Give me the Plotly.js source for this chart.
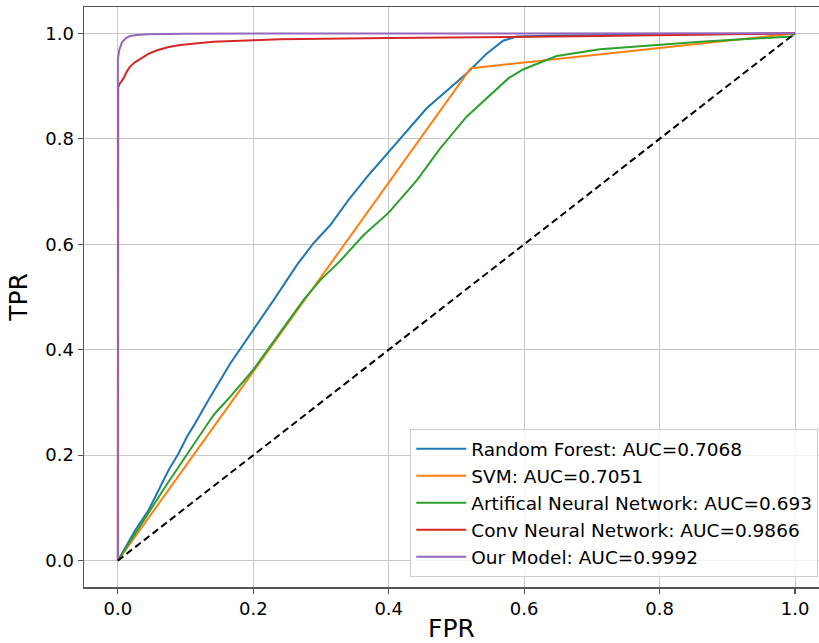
<!DOCTYPE html>
<html>
<head>
<meta charset="utf-8">
<script src="https://cdn.plot.ly/plotly-3.0.1.min.js"></script>
<style>html,body{margin:0;padding:0;background:#fff;}#chart{width:819px;height:643px;}</style>
</head>
<body>
<div id="chart"></div>
<script>
// Series names
const names = [
  "Random Forest: AUC=0.7068",
  "SVM: AUC=0.7051",
  "Artifical Neural Network: AUC=0.693",
  "Conv Neural Network: AUC=0.9866",
  "Our Model: AUC=0.9992"
];

// Random Forest
const rf_fpr = [0, 0.0258, 0.0455, 0.06, 0.075, 0.090, 0.102, 0.114, 0.134, 0.166, 0.2, 0.23, 0.2645, 0.289, 0.3137, 0.3407, 0.368, 0.40, 0.456, 0.515, 0.545, 0.569, 0.589, 0.65, 0.8, 1.0];
const rf_tpr = [0, 0.058, 0.096, 0.134, 0.172, 0.204, 0.235, 0.260, 0.305, 0.374, 0.437, 0.494, 0.561, 0.602, 0.6365, 0.684, 0.728, 0.776, 0.858, 0.924, 0.962, 0.986, 0.994, 0.996, 0.998, 1.0];

// SVM
const svm_fpr = [0, 0.521, 1.0];
const svm_tpr = [0, 0.934, 1.0];

// Artificial Neural Network
const ann_fpr = [0, 0.0258, 0.0455, 0.070, 0.095, 0.119, 0.138, 0.144, 0.166, 0.2, 0.225, 0.25, 0.274, 0.299, 0.328, 0.363, 0.40, 0.442, 0.476, 0.515, 0.545, 0.577, 0.599, 0.648, 0.712, 0.86, 0.995, 1.0];
const ann_tpr = [0, 0.052, 0.090, 0.140, 0.188, 0.235, 0.270, 0.280, 0.311, 0.362, 0.406, 0.450, 0.494, 0.532, 0.568, 0.6175, 0.660, 0.722, 0.782, 0.842, 0.877, 0.915, 0.932, 0.957, 0.970, 0.984, 0.994, 1.0];

// Conv Neural Network
const cnn_fpr = [0, 0, 0.0005, 0.003, 0.0086, 0.013, 0.018, 0.025, 0.033, 0.045, 0.058, 0.075, 0.092, 0.115, 0.141, 0.2, 0.24, 0.4, 0.6, 0.712, 1.0];
const cnn_tpr = [0, 0.85, 0.898, 0.905, 0.915, 0.927, 0.937, 0.945, 0.951, 0.961, 0.968, 0.974, 0.978, 0.981, 0.984, 0.987, 0.989, 0.991, 0.993, 0.995, 1.0];

// Our Model
const our_fpr = [0, 0, 0.002, 0.006, 0.012, 0.018, 0.028, 0.043, 0.1, 1.0];
const our_tpr = [0, 0.95, 0.968, 0.983, 0.991, 0.995, 0.997, 0.9985, 0.9995, 1.0];

// Chance diagonal
const diag_x = [0, 1];
const diag_y = [0, 1];

// Tick values
const tickVals = [0, 0.2, 0.4, 0.6, 0.8, 1.0];
const tickText = ["0.0", "0.2", "0.4", "0.6", "0.8", "1.0"];

const colors = ["#1f77b4", "#ff7f0e", "#2ca02c", "#d62728", "#9467bd"];
const xs = [rf_fpr, svm_fpr, ann_fpr, cnn_fpr, our_fpr];
const ys = [rf_tpr, svm_tpr, ann_tpr, cnn_tpr, our_tpr];

const traces = xs.map((x, i) => ({
  x: x, y: ys[i], type: "scatter", mode: "lines", name: names[i],
  line: {color: colors[i], width: 2},
  hoverinfo: "skip"
}));
traces.push({
  x: diag_x, y: diag_y, type: "scatter", mode: "lines", showlegend: false,
  line: {color: "#000000", width: 2, dash: "7px,4px"}, hoverinfo: "skip"
});

const font = "DejaVu Sans, sans-serif";
const layout = {
  width: 819, height: 643,
  margin: {l: 84, r: 0, t: 7, b: 56, pad: 0},
  paper_bgcolor: "#ffffff", plot_bgcolor: "#ffffff",
  font: {family: font, color: "#000000", size: 18},
  showlegend: true,
  xaxis: {
    range: [-0.05, 1.0354], tickvals: tickVals, ticktext: tickText,
    showgrid: true, gridcolor: "#c8c8c8", gridwidth: 1, zeroline: false,
    showline: true, linecolor: "#555555", linewidth: 1.5, mirror: true,
    ticks: "outside", ticklen: 5, tickcolor: "#555555", tickwidth: 1.2,
    tickfont: {family: font, size: 18, color: "#000000"},
    title: {text: "FPR", font: {family: font, size: 25, color: "#000000"}, standoff: 8}
  },
  yaxis: {
    range: [-0.05, 1.05], tickvals: tickVals, ticktext: tickText,
    showgrid: true, gridcolor: "#c8c8c8", gridwidth: 1, zeroline: false,
    showline: true, linecolor: "#555555", linewidth: 1.5, mirror: false,
    ticks: "outside", ticklen: 5, tickcolor: "#555555", tickwidth: 1.2,
    tickfont: {family: font, size: 18, color: "#000000"},
    title: {text: "TPR", font: {family: font, size: 25, color: "#000000"}, standoff: 10}
  },
  legend: {
    x: 0.999, y: 0.017, xanchor: "right", yanchor: "bottom",
    bgcolor: "rgba(255,255,255,0.8)", bordercolor: "#cccccc", borderwidth: 1,
    font: {family: font, size: 18.5, color: "#000000"},
    itemwidth: 50
  }
};

Plotly.newPlot("chart", traces, layout, {displayModeBar: false, staticPlot: true});
</script>
</body>
</html>
